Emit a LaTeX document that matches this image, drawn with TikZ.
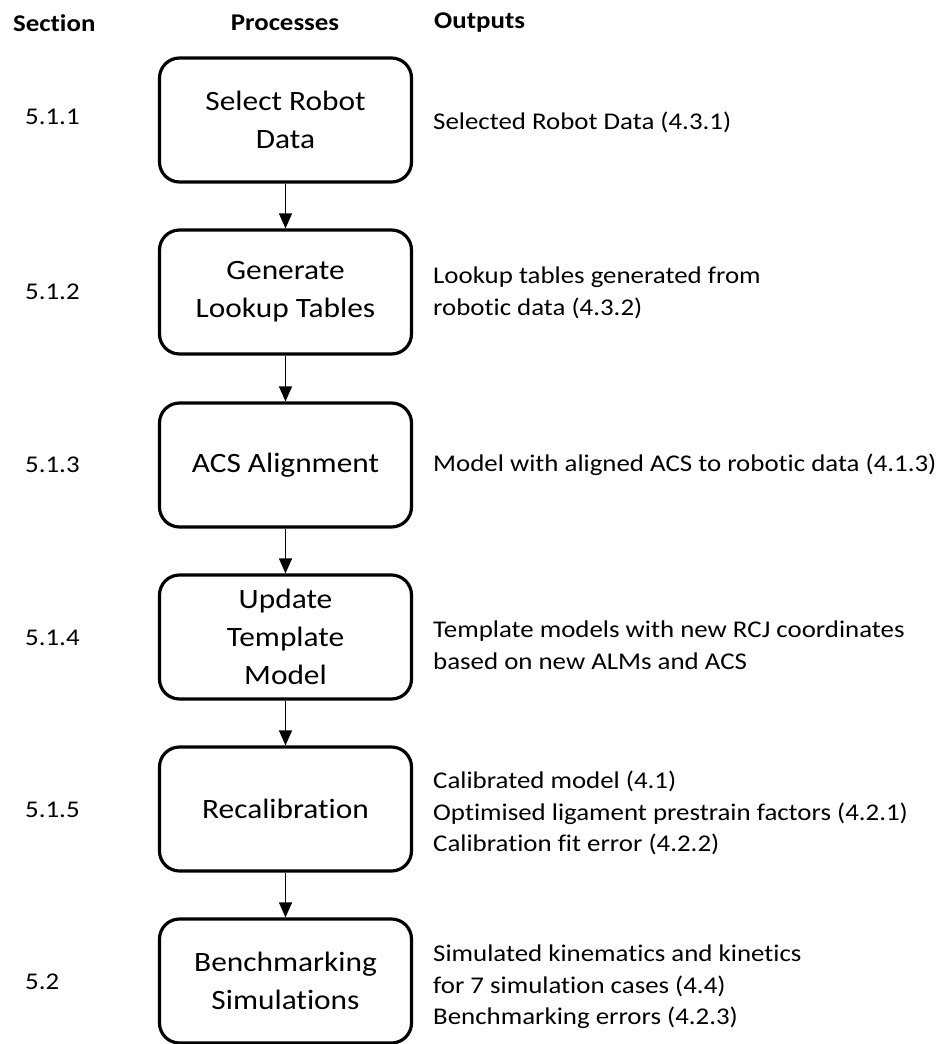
\documentclass[tikz,border=0pt]{standalone}
\usepackage{fontspec}
\setmainfont{Carlito}[FakeStretch=1.12, Ligatures=NoCommon]
\usetikzlibrary{arrows.meta}

\begin{document}
\begin{tikzpicture}[x=1pt,y=-1pt,
processnode/.style={rectangle, draw=black, line width=3.2pt, rounded corners=20pt, minimum width=252pt, minimum height=124pt, align=center, font=\fontsize{28}{38}\selectfont},
headernode/.style={font=\bfseries\fontsize{24}{30}\selectfont},
sectionnode/.style={anchor=west, inner sep=0pt, font=\fontsize{24}{30}\selectfont},
outputnode/.style={anchor=west, align=left, inner sep=0pt, font=\fontsize{24}{31.5}\selectfont},
flow arrow/.style={-{Triangle[length=15pt,width=13pt]}, line width=1.2pt}
]
\useasboundingbox (0,0) rectangle (936,1044);

%Headers
\node[headernode, anchor=west, inner sep=0pt] at (13,23) (HSEC) {Section};
\node[headernode] at (285,23) (HPROC) {Processes};
\node[headernode, anchor=west, inner sep=0pt] at (434,23) (HOUT) {Outputs};

%Nodes
\node[processnode] at (285.5,120) (SELECT)   {Select Robot\\Data};
\node[processnode] at (285.5,292) (LOOKUP)   {Generate\\Lookup Tables};
\node[processnode] at (285.5,465) (ALIGN)    {ACS Alignment};
\node[processnode] at (285.5,637) (TEMPLATE) {Update\\Template\\Model};
\node[processnode] at (285.5,809) (RECAL)    {Recalibration};
\node[processnode] at (285.5,981) (BENCH)    {Benchmarking\\Simulations};

\node[sectionnode] at (25,117) (SEC-1) {5.1.1};
\node[sectionnode] at (25,292) (SEC-2) {5.1.2};
\node[sectionnode] at (25,465) (SEC-3) {5.1.3};
\node[sectionnode] at (25,638) (SEC-4) {5.1.4};
\node[sectionnode] at (25,810) (SEC-5) {5.1.5};
\node[sectionnode] at (25,982) (SEC-6) {5.2};

\node[outputnode] at (433,122) (OUT-1) {Selected Robot Data (4.3.1)};
\node[outputnode] at (433,293) (OUT-2) {Lookup tables generated from\\robotic data (4.3.2)};
\node[outputnode] at (433,465) (OUT-3) {Model with aligned ACS to robotic data (4.1.3)};
\node[outputnode] at (433,645) (OUT-4) {Template models with new RCJ coordinates\\based on new ALMs and ACS};
\node[outputnode] at (433,813) (OUT-5) {Calibrated model (4.1)\\Optimised ligament prestrain factors (4.2.1)\\Calibration fit error (4.2.2)};
\node[outputnode] at (433,987) (OUT-6) {Simulated kinematics and kinetics\\for 7 simulation cases (4.4)\\Benchmarking errors (4.2.3)};

%Lines
\draw[flow arrow] (SELECT.south) -- (LOOKUP.north);
\draw[flow arrow] (LOOKUP.south) -- (ALIGN.north);
\draw[flow arrow] (ALIGN.south) -- (TEMPLATE.north);
\draw[flow arrow] (TEMPLATE.south) -- (RECAL.north);
\draw[flow arrow] (RECAL.south) -- (BENCH.north);
\end{tikzpicture}
\end{document}
